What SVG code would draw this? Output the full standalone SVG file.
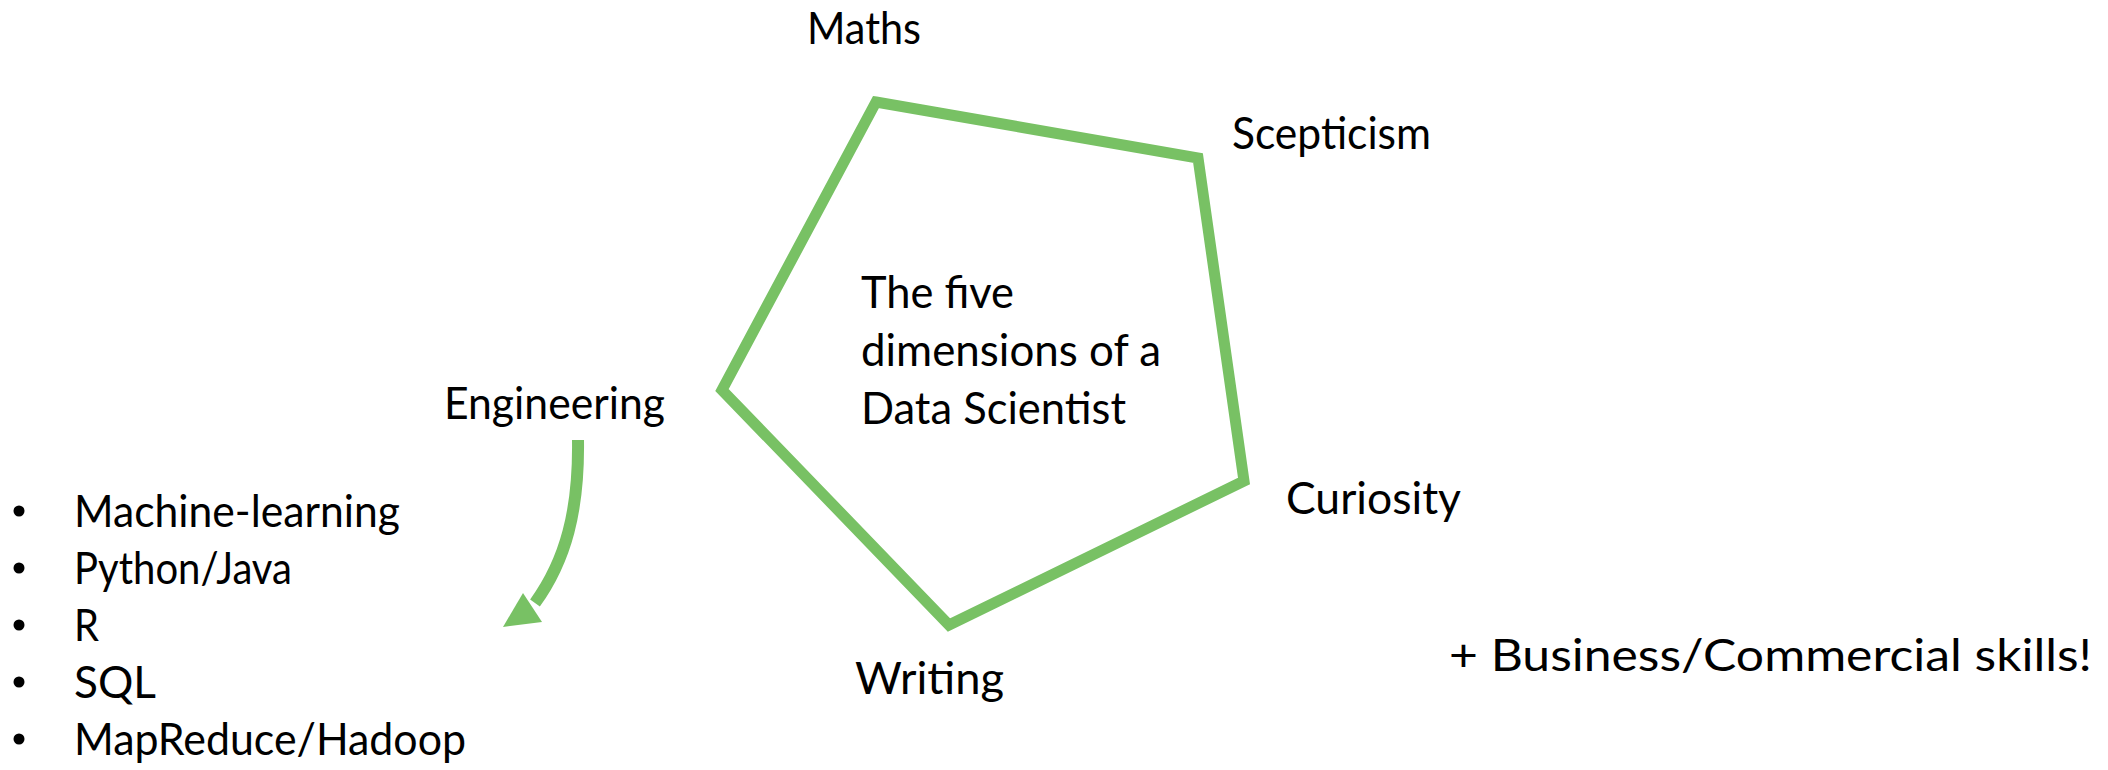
<svg xmlns="http://www.w3.org/2000/svg" width="2108" height="770" viewBox="0 0 2108 770">
<style>
  text { font-family: "Lato", "Liberation Sans", sans-serif; font-size: 44px; fill: #000; }
  .shape { fill: none; stroke: #78C164; stroke-width: 11; stroke-linejoin: miter; stroke-miterlimit: 10; }
  .arrow { fill: none; stroke: #78C164; stroke-width: 12; }
  .head { fill: #78C164; }
</style>
<rect width="2108" height="770" fill="#ffffff"/>
<g id="pentagon">
  <polygon class="shape" points="876,102 1198,158 1244,481 949,625 722,390"/>
  <text x="861" y="308" textLength="153" lengthAdjust="spacingAndGlyphs">The five</text>
  <text x="861" y="366" textLength="300" lengthAdjust="spacingAndGlyphs">dimensions of a</text>
  <text x="861" y="424" textLength="265" lengthAdjust="spacingAndGlyphs">Data Scientist</text>
</g>
<g id="maths"><text x="807" y="44" textLength="114" lengthAdjust="spacingAndGlyphs">Maths</text></g>
<g id="scepticism"><text x="1232" y="149" textLength="199" lengthAdjust="spacingAndGlyphs">Scepticism</text></g>
<g id="curiosity"><text x="1286" y="514" textLength="175" lengthAdjust="spacingAndGlyphs">Curiosity</text></g>
<g id="writing"><text x="855" y="694" textLength="149" lengthAdjust="spacingAndGlyphs">Writing</text></g>
<g id="engineering"><text x="444" y="419" textLength="221" lengthAdjust="spacingAndGlyphs">Engineering</text></g>
<g id="business"><text x="1449" y="671" textLength="643" lengthAdjust="spacingAndGlyphs">+ Business/Commercial skills!</text></g>
<g id="connectors">
  <path class="arrow" d="M578,440 C579,510 566,560 535,603"/>
  <polygon class="head" points="503,627 523,593 542,622"/>
</g>
<g id="engineering-list">
  <circle cx="19" cy="511" r="5.5"/>
  <circle cx="19" cy="568" r="5.5"/>
  <circle cx="19" cy="625" r="5.5"/>
  <circle cx="19" cy="682" r="5.5"/>
  <circle cx="19" cy="739" r="5.5"/>
  <text x="74" y="527" textLength="326" lengthAdjust="spacingAndGlyphs">Machine-learning</text>
  <text x="74" y="584" textLength="218" lengthAdjust="spacingAndGlyphs">Python/Java</text>
  <text x="74" y="641" textLength="25" lengthAdjust="spacingAndGlyphs">R</text>
  <text x="74" y="698" textLength="82" lengthAdjust="spacingAndGlyphs">SQL</text>
  <text x="74" y="755" textLength="392" lengthAdjust="spacingAndGlyphs">MapReduce/Hadoop</text>
</g>
</svg>
